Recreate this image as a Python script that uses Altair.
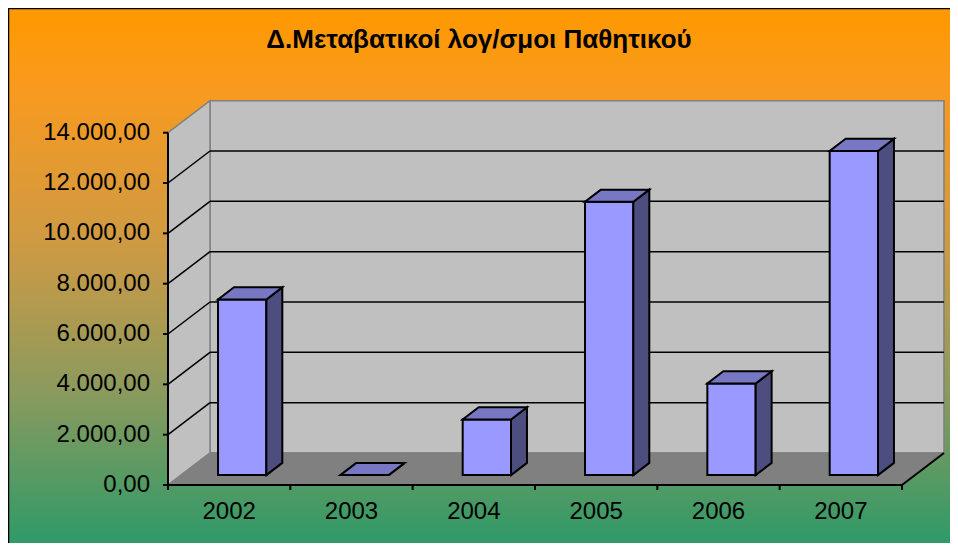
import altair as alt
import pandas as pd

# ---------------- data ----------------
TITLE = "Δ.Μεταβατικοί λογ/σμοι Παθητικού"
years = ["2002", "2003", "2004", "2005", "2006", "2007"]
values = [6980, 0, 2210, 10860, 3640, 12880]
y_ticks = [0, 2000, 4000, 6000, 8000, 10000, 12000, 14000]
y_tick_labels = ["0,00", "2.000,00", "4.000,00", "6.000,00", "8.000,00",
                 "10.000,00", "12.000,00", "14.000,00"]

# ---------------- geometry (scale setup) ----------------
W, H = 942, 535
PX_X = 122.33          # pixels per category
PX_Y = 0.0251643       # pixels per value unit
X0, Y0 = 160, 477      # pixel position of the front origin inside the view
XMIN, XMAX = -X0 / PX_X, (W - X0) / PX_X
YMIN, YMAX = (Y0 - H) / PX_Y, Y0 / PX_Y
N = len(years)
VMAX = y_ticks[-1]
DX, DY = 42 / PX_X, 32 / PX_Y      # full depth of the 3-D box
F0, F1 = 0.31, 0.69                # bar depth span
HW = 0.1975                        # half bar width (category units)
TLX, TLY = 5 / PX_X, 5 / PX_Y      # tick lengths
FONT = "Liberation Sans"

xs = alt.Scale(domain=[XMIN, XMAX], nice=False, zero=False)
ys = alt.Scale(domain=[YMIN, YMAX], nice=False, zero=False)


def X(f="x"):
    return alt.X(f"{f}:Q", scale=xs, axis=None)


def Y(f="y"):
    return alt.Y(f"{f}:Q", scale=ys, axis=None)


# ---------------- tables ----------------
bg = pd.DataFrame({"x": [XMIN], "x2": [XMAX], "y": [YMIN], "y2": [YMAX]})
border = pd.DataFrame({"x": [XMIN, XMIN], "x2": [XMIN, XMAX],
                       "y": [YMIN, YMAX], "y2": [YMAX, YMAX]})
wall = pd.DataFrame({"x": [DX], "x2": [N + DX], "y": [DY], "y2": [VMAX + DY]})
lwall = pd.DataFrame({"x": [0, DX], "y": [0, DY], "y2": [VMAX, VMAX + DY]})
floor = pd.DataFrame({"y": [0, DY], "x": [0, DX], "x2": [N, N + DX]})
inner = y_ticks[1:-1]
grid = pd.DataFrame({"x": [DX] * len(inner), "x2": [N + DX] * len(inner),
                     "y": [g + DY for g in inner]})
diag = pd.DataFrame({"x": [0] * len(inner), "x2": [DX] * len(inner),
                     "y": inner, "y2": [g + DY for g in inner]})
yticks = pd.DataFrame({"x": [-TLX] * len(y_ticks), "x2": [0] * len(y_ticks),
                       "y": y_ticks, "label": y_tick_labels})
xticks = pd.DataFrame({"x": list(range(N + 1)), "y": [-TLY] * (N + 1),
                       "y2": [0] * (N + 1)})
axes = pd.DataFrame({"x": [0, 0, N], "x2": [0, N, N + DX],
                     "y": [0, 0, 0], "y2": [VMAX, 0, DY]})

front_rows, side_rows, top_rows, lab_rows = [], [], [], []
for i, (yr, v) in enumerate(zip(years, values)):
    c = i + 0.5 + F0 * DX
    xl, xr = c - HW, c + HW
    yb, yt = F0 * DY, v + F0 * DY
    bdx, bdy = (F1 - F0) * DX, (F1 - F0) * DY
    front_rows.append({"year": yr, "x": xl, "x2": xr, "y": yb, "y2": yt})
    side_rows += [{"year": yr, "x": xr, "y": yb, "y2": yt},
                  {"year": yr, "x": xr + bdx, "y": yb + bdy, "y2": yt + bdy}]
    top_rows += [{"year": yr, "y": yt, "x": xl, "x2": xr},
                 {"year": yr, "y": yt + bdy, "x": xl + bdx, "x2": xr + bdx}]
    lab_rows.append({"year": yr, "x": i + 0.5, "y": 0})
front = pd.DataFrame(front_rows)
side = pd.DataFrame(side_rows)
top = pd.DataFrame(top_rows)
xlabels = pd.DataFrame(lab_rows)

grad = {"gradient": "linear", "x1": 0, "y1": 0, "x2": 0, "y2": 1,
        "stops": [{"offset": 0.0, "color": "#FF9900"},
                  {"offset": 0.15, "color": "#F99A1E"},
                  {"offset": 0.45, "color": "#CC9A45"},
                  {"offset": 0.72, "color": "#8A9A5E"},
                  {"offset": 1.0, "color": "#2F9A68"}]}

# ---------------- layers ----------------
l_bg = alt.Chart(bg).mark_rect(fill=grad, strokeWidth=0).encode(
    x=X(), x2="x2", y=Y(), y2="y2")
l_border = alt.Chart(border).mark_rule(color="black", strokeWidth=2.5).encode(
    x=X(), x2="x2", y=Y(), y2="y2")
l_wall = alt.Chart(wall).mark_rect(fill="#C0C0C0", stroke="#808080", strokeWidth=1.5).encode(
    x=X(), x2="x2", y=Y(), y2="y2")
l_lwall = alt.Chart(lwall).mark_area(orient="vertical", fill="#C0C0C0", stroke="#808080",
                                     strokeWidth=1.5).encode(x=X(), y=Y(), y2="y2")
l_floor = alt.Chart(floor).mark_area(orient="horizontal", fill="#808080", stroke="#808080",
                                     strokeWidth=1.5).encode(y=Y(), x=X(), x2="x2")
l_grid = alt.Chart(grid).mark_rule(color="black", strokeWidth=1.5).encode(
    x=X(), x2="x2", y=Y())
l_diag = alt.Chart(diag).mark_rule(color="black", strokeWidth=1.5).encode(
    x=X(), x2="x2", y=Y(), y2="y2")
l_axes = alt.Chart(axes).mark_rule(color="black", strokeWidth=2).encode(
    x=X(), x2="x2", y=Y(), y2="y2")
l_yt = alt.Chart(yticks).mark_rule(color="black", strokeWidth=2).encode(
    x=X(), x2="x2", y=Y())
l_xt = alt.Chart(xticks).mark_rule(color="black", strokeWidth=2).encode(
    x=X(), y=Y(), y2="y2")
l_front = alt.Chart(front).mark_rect(fill="#9999FF", stroke="black", strokeWidth=2).encode(
    x=X(), x2="x2", y=Y(), y2="y2")
l_side = alt.Chart(side).mark_area(orient="vertical", fill="#4D4D80", stroke="black",
                                   strokeWidth=2).encode(
    x=X(), y=Y(), y2="y2", detail="year:N")
l_top = alt.Chart(top).mark_area(orient="horizontal", fill="#7777C4", stroke="black",
                                 strokeWidth=2).encode(
    y=Y(), x=X(), x2="x2", detail="year:N")
l_ylab = alt.Chart(yticks).mark_text(align="right", baseline="middle", dx=-13, font=FONT,
                                     fontSize=24, color="black").encode(
    x=X(), y=Y(), text="label:N")
l_xlab = alt.Chart(xlabels).mark_text(align="center", baseline="middle", dy=27, font=FONT,
                                      fontSize=24, color="black").encode(
    x=X(), y=Y(), text="year:N")

chart = alt.layer(
    l_bg, l_wall, l_lwall, l_floor, l_grid, l_diag, l_axes, l_yt, l_xt,
    l_front, l_side, l_top, l_ylab, l_xlab, l_border,
).properties(
    width=W, height=H, padding=0, autosize="none",
    title=alt.Title(TITLE, anchor="middle", orient="top", offset=-67, baseline="alphabetic",
                    font=FONT, fontSize=26, fontWeight="bold", color="black"),
).configure_view(stroke=None)

chart.save("out.html", embed_options={"renderer": "svg", "actions": False})
